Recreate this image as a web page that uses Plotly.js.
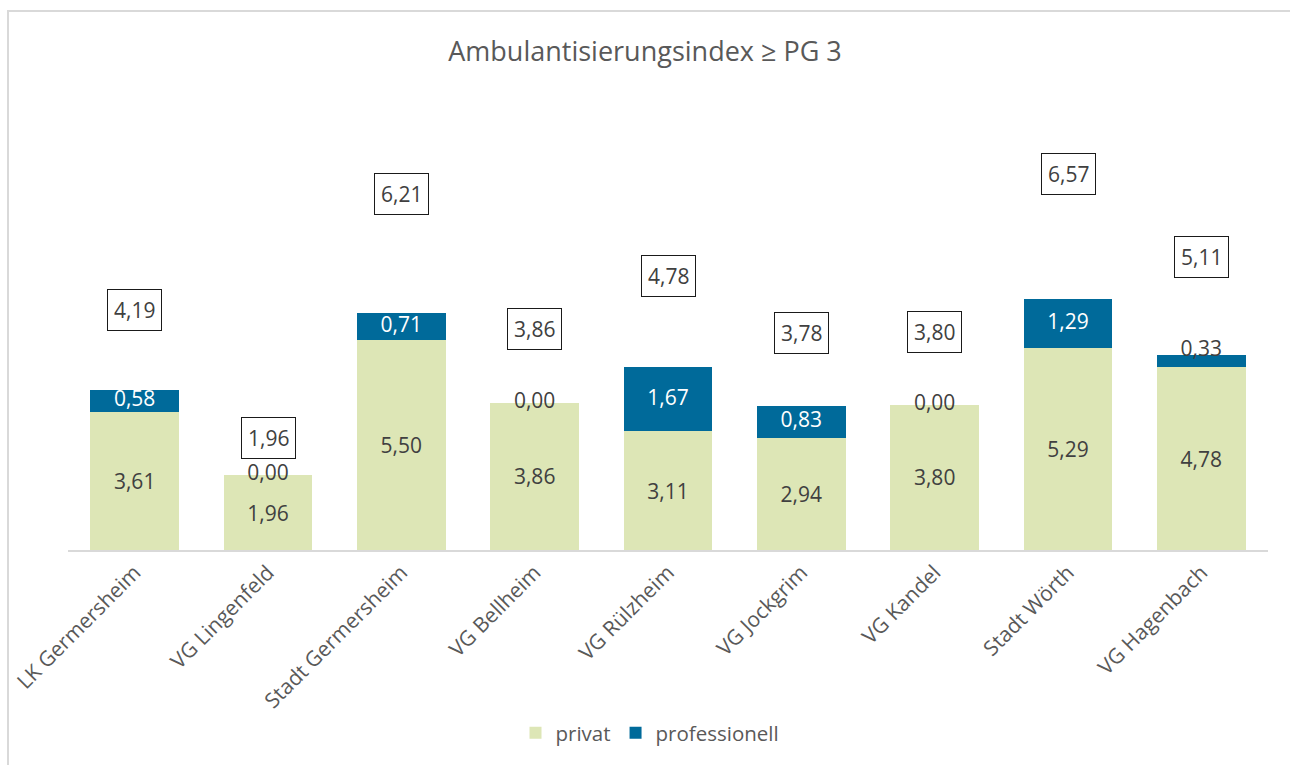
<!DOCTYPE html>
<html>
<head>
<meta charset="utf-8">
<script src="https://cdn.plot.ly/plotly-3.0.1.min.js"></script>
<style>
  html, body { margin: 0; padding: 0; background: #ffffff; overflow: hidden; }
  #chart { position: absolute; left: 0; top: 0; width: 1290px; height: 765px; }
  #frame { position: absolute; left: 7px; top: 10px; width: 1300px; height: 770px;
           border-left: 2px solid #d9d9d9; border-top: 2px solid #d9d9d9;
           box-sizing: border-box; pointer-events: none; }
</style>
</head>
<body>
<div id="chart"></div>
<div id="frame"></div>
<script>
// ---- data ----
const categories = ["LK Germersheim", "VG Lingenfeld", "Stadt Germersheim", "VG Bellheim",
                    "VG Rülzheim", "VG Jockgrim", "VG Kandel", "Stadt Wörth", "VG Hagenbach"];
const privat        = [3.61, 1.96, 5.50, 3.86, 3.11, 2.94, 3.80, 5.29, 4.78];
const professionell = [0.58, 0.00, 0.71, 0.00, 1.67, 0.83, 0.00, 1.29, 0.33];
const totals        = [4.19, 1.96, 6.21, 3.86, 4.78, 3.78, 3.80, 6.57, 5.11];

// ---- style ----
const FONT = "Open Sans, sans-serif";
const GREEN = "#dde6b6";
const BLUE = "#006a9a";
const TEXT = "#404040";
const GREY = "#595959";
const LABEL_LIFT = 1.5; // total boxes sit higher than the bars (helper series in original)

const fmt = v => v.toFixed(2).replace(".", ",");

const traceP = {
  type: "bar", name: "privat", x: categories, y: privat,
  marker: { color: GREEN },
  text: privat.map(fmt), textposition: "inside", insidetextanchor: "middle",
  textfont: { family: FONT, size: 21, color: TEXT },
  constraintext: "none", hoverinfo: "skip"
};
const traceQ = {
  type: "bar", name: "professionell", x: categories, y: professionell,
  marker: { color: BLUE }, textposition: "none", hoverinfo: "skip"
};
// value labels for the professionell segments
const proLabels = {
  type: "scatter", mode: "text", showlegend: false, hoverinfo: "skip",
  x: categories,
  y: professionell.map((v, i) => privat[i] + v / 2),
  text: professionell.map(fmt),
  textposition: professionell.map(v => (v > 0 && v < 0.5) ? "top center" : "middle center"),
  textfont: { family: FONT, size: 21,
              color: professionell.map(v => v >= 0.5 ? "#ffffff" : TEXT) },
  cliponaxis: false
};

const annotations = categories.map((c, i) => ({
  x: c, y: totals[i] * LABEL_LIFT, xref: "x", yref: "y",
  text: fmt(totals[i]), showarrow: false,
  font: { family: FONT, size: 21, color: TEXT },
  bgcolor: "#ffffff", bordercolor: "#1a1a1a", borderwidth: 1, borderpad: 6
}));

const layout = {
  width: 1290, height: 765,
  margin: { l: 68, r: 22, t: 149, b: 215 },
  paper_bgcolor: "#ffffff", plot_bgcolor: "#ffffff",
  barmode: "stack", bargap: 0.333,
  separators: ",.",
  title: { text: "Ambulantisierungsindex ≥ PG 3", x: 0.5, xanchor: "center",
           y: (765 - 52) / 765, yref: "container", yanchor: "middle",
           font: { family: FONT, size: 27, color: GREY } },
  xaxis: { type: "category", showline: true, linecolor: "#d9d9d9", linewidth: 2,
           ticks: "", tickangle: -45, showgrid: false, zeroline: false,
           tickfont: { family: FONT, size: 21, color: GREY } },
  yaxis: { range: [0, 10.5], visible: false, showgrid: false, zeroline: false, fixedrange: true },
  legend: { orientation: "h", x: 0.485, xanchor: "center", y: (765 - 733) / 765, yref: "container",
            yanchor: "middle", font: { family: FONT, size: 20.5, color: GREY },
            itemwidth: 30, traceorder: "normal" },
  annotations: annotations,
  showlegend: true
};

Plotly.newPlot("chart", [traceP, traceQ, proLabels], layout, { displayModeBar: false, staticPlot: true });
</script>
</body>
</html>
